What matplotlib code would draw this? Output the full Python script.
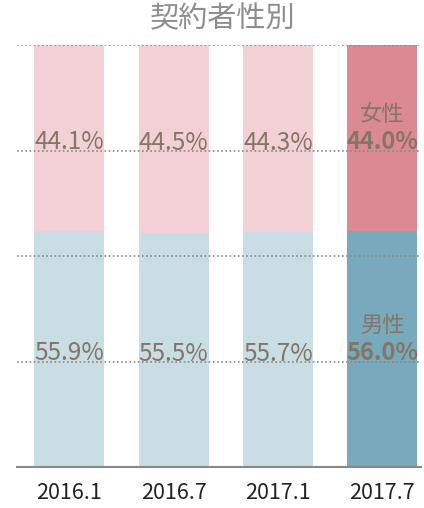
import matplotlib
matplotlib.use("Agg")
import matplotlib.pyplot as plt

plt.rcParams['font.family'] = ['Noto Sans CJK JP', 'DejaVu Sans']

periods = ["2016.1", "2016.7", "2017.1", "2017.7"]
male = [55.9, 55.5, 55.7, 56.0]
female = [44.1, 44.5, 44.3, 44.0]
gender_labels = ["男性", "女性"]
title = "契約者性別"

male_colors = ["#c8dde4", "#c8dde4", "#c8dde4", "#78a9bd"]
female_colors = ["#f2d0d5", "#f2d0d5", "#f2d0d5", "#db8a93"]
text_color = "#857565"

fig = plt.figure(figsize=(4.24, 5.08), dpi=100)
ax = fig.add_axes([17 / 424, 1 - 467 / 508, (421 - 17) / 424, (467 - 45) / 508])

x = range(len(periods))
width = 0.67
ax.bar(x, male, width=width, color=male_colors, zorder=1)
ax.bar(x, female, width=width, bottom=male, color=female_colors, zorder=1)

for yv in [25, 50, 75, 100]:
    ax.axhline(yv, color="#888888", linestyle=(0, (1, 1.5)), linewidth=1.2, zorder=3)

last = len(periods) - 1
shift = -1.0   # nudge value labels slightly below segment centre
for i in x:
    m_c = male[i] / 2 + shift
    f_c = male[i] + female[i] / 2 + shift
    if i == last:
        ax.text(i, m_c, f"{male[i]:.1f}%", ha="center", va="center", fontsize=17,
                fontweight="bold", color=text_color, zorder=4)
        ax.text(i, m_c + 6.6, gender_labels[0], ha="center", va="center", fontsize=16,
                color=text_color, zorder=4)
        ax.text(i, f_c, f"{female[i]:.1f}%", ha="center", va="center", fontsize=17,
                fontweight="bold", color=text_color, zorder=4)
        ax.text(i, f_c + 6.6, gender_labels[1], ha="center", va="center", fontsize=16,
                color=text_color, zorder=4)
    else:
        ax.text(i, m_c, f"{male[i]:.1f}%", ha="center", va="center", fontsize=17.5,
                color=text_color, zorder=4)
        ax.text(i, f_c, f"{female[i]:.1f}%", ha="center", va="center", fontsize=17.5,
                color=text_color, zorder=4)

ax.set_xlim(-0.5, 3.37)
ax.set_ylim(0, 100)
ax.set_xticks(list(x))
ax.set_xticklabels(periods, fontsize=15.5, color="#222222")
ax.tick_params(axis="x", length=0, pad=11)
ax.set_yticks([])
for s in ["top", "right", "left"]:
    ax.spines[s].set_visible(False)
ax.spines["bottom"].set_color("#888888")
ax.spines["bottom"].set_linewidth(1.5)
ax.spines["bottom"].set_zorder(5)

fig.text(223 / 424, 1 - 19 / 508, title, ha="center", va="center", fontsize=21,
         color="#8e8e8e")

fig.savefig("out.png", dpi=100)
